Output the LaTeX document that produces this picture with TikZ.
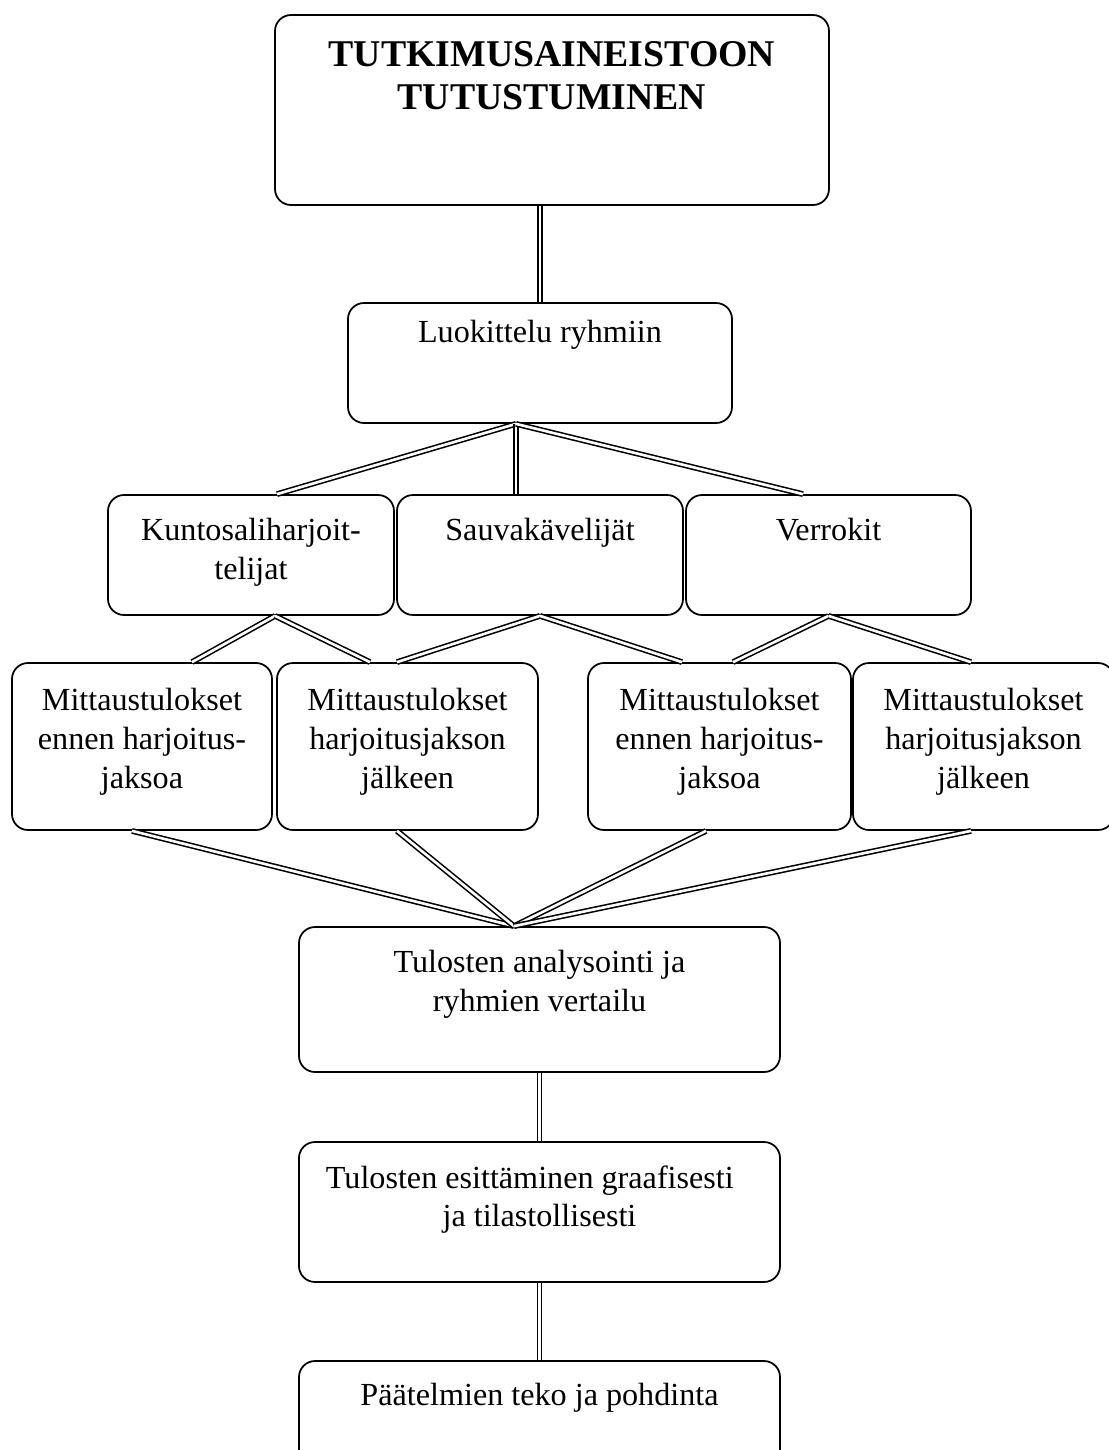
\documentclass[tikz,border=0pt]{standalone}
\usepackage{fontspec}
\setmainfont{Liberation Serif}
\usetikzlibrary{positioning}

\begin{document}
\begin{tikzpicture}[
    box/.style={rectangle, rounded corners=0.32cm, draw, line width=1.0pt, inner sep=0pt},
    txt/.style={inner sep=0pt, align=center, font=\fontsize{18.3}{22}\selectfont},
    link/.style={double, double distance=1.5pt, line width=0.9pt}
]
\useasboundingbox (0,0) rectangle (22.16,-29.0);

% boxes
\node[box, minimum width=11.08cm, minimum height=3.80cm] (tutk) at (11.04,-2.20) {};
\node[box, minimum width=7.68cm, minimum height=2.40cm] (luok) at (10.80,-7.26) {};
\node[box, minimum width=5.72cm, minimum height=2.40cm] (kunto) at (5.02,-11.10) {};
\node[box, minimum width=5.72cm, minimum height=2.40cm] (sauva) at (10.80,-11.10) {};
\node[box, minimum width=5.70cm, minimum height=2.40cm] (verr) at (16.57,-11.10) {};
\node[box, minimum width=5.20cm, minimum height=3.34cm] (m1) at (2.84,-14.93) {};
\node[box, minimum width=5.22cm, minimum height=3.34cm] (m2) at (8.15,-14.93) {};
\node[box, minimum width=5.26cm, minimum height=3.34cm] (m3) at (14.39,-14.93) {};
\node[box, minimum width=5.22cm, minimum height=3.34cm] (m4) at (19.67,-14.93) {};
\node[box, minimum width=9.62cm, minimum height=2.90cm] (anal) at (10.79,-19.99) {};
\node[box, minimum width=9.62cm, minimum height=2.80cm] (esit) at (10.79,-24.24) {};
\node[box, minimum width=9.62cm, minimum height=2.18cm] (paat) at (10.79,-28.31) {};

% texts
\node[txt, font=\fontsize{21.5}{24.6}\selectfont\bfseries, below=0.54cm of tutk.north] (tutktxt) {TUTKIMUSAINEISTOON\\TUTUSTUMINEN};
\node[txt, below=0.36cm of luok.north] (luoktxt) {Luokittelu ryhmiin};
\node[txt, below=0.48cm of kunto.north] (kuntotxt) {Kuntosaliharjoit-\\telijat};
\node[txt, below=0.48cm of sauva.north] (sauvatxt) {Sauvakävelijät};
\node[txt, below=0.48cm of verr.north] (verrtxt) {Verrokit};
\node[txt, below=0.52cm of m1.north] (m1txt) {Mittaustulokset\\ennen harjoitus-\\jaksoa};
\node[txt, below=0.52cm of m2.north] (m2txt) {Mittaustulokset\\harjoitusjakson\\jälkeen};
\node[txt, below=0.52cm of m3.north] (m3txt) {Mittaustulokset\\ennen harjoitus-\\jaksoa};
\node[txt, below=0.52cm of m4.north] (m4txt) {Mittaustulokset\\harjoitusjakson\\jälkeen};
\node[txt, below=0.48cm of anal.north] (analtxt) {Tulosten analysointi ja\\ryhmien vertailu};
\node[txt, below=0.48cm of esit.north] (esittxt) {Tulosten esittäminen graafisesti\hspace*{0.6em}\\ja tilastollisesti};
\node[txt, below=0.46cm of paat.north] (paattxt) {Päätelmien teko ja pohdinta};

% connectors
\draw[link] (luok.north |- tutk.south) -- (luok.north);
\draw[link] ([xshift=-0.48cm]luok.south) -- ([xshift=0.52cm]kunto.north);
\draw[link] ([xshift=-0.48cm]luok.south) -- ([xshift=-0.48cm]sauva.north);
\draw[link] ([xshift=-0.48cm]luok.south) -- ([xshift=-0.51cm]verr.north);

\draw[link] ([xshift=0.48cm]kunto.south) -- ([xshift=1.0cm]m1.north);
\draw[link] ([xshift=0.48cm]kunto.south) -- ([xshift=-0.75cm]m2.north);
\draw[link] (sauva.south) -- ([xshift=-0.21cm]m2.north);
\draw[link] (sauva.south) -- ([xshift=-0.75cm]m3.north);
\draw[link] (verr.south) -- ([xshift=0.27cm]m3.north);
\draw[link] (verr.south) -- ([xshift=-0.25cm]m4.north);

\draw[link] ([xshift=-0.20cm]m1.south) -- ([xshift=-0.51cm]anal.north);
\draw[link] ([xshift=-0.21cm]m2.south) -- ([xshift=-0.51cm]anal.north);
\draw[link] ([xshift=-0.27cm]m3.south) -- ([xshift=-0.51cm]anal.north);
\draw[link] ([xshift=-0.25cm]m4.south) -- ([xshift=-0.51cm]anal.north);

\draw[link] (anal.south) -- (esit.north);
\draw[link] (esit.south) -- (paat.north);

\end{tikzpicture}
\end{document}
